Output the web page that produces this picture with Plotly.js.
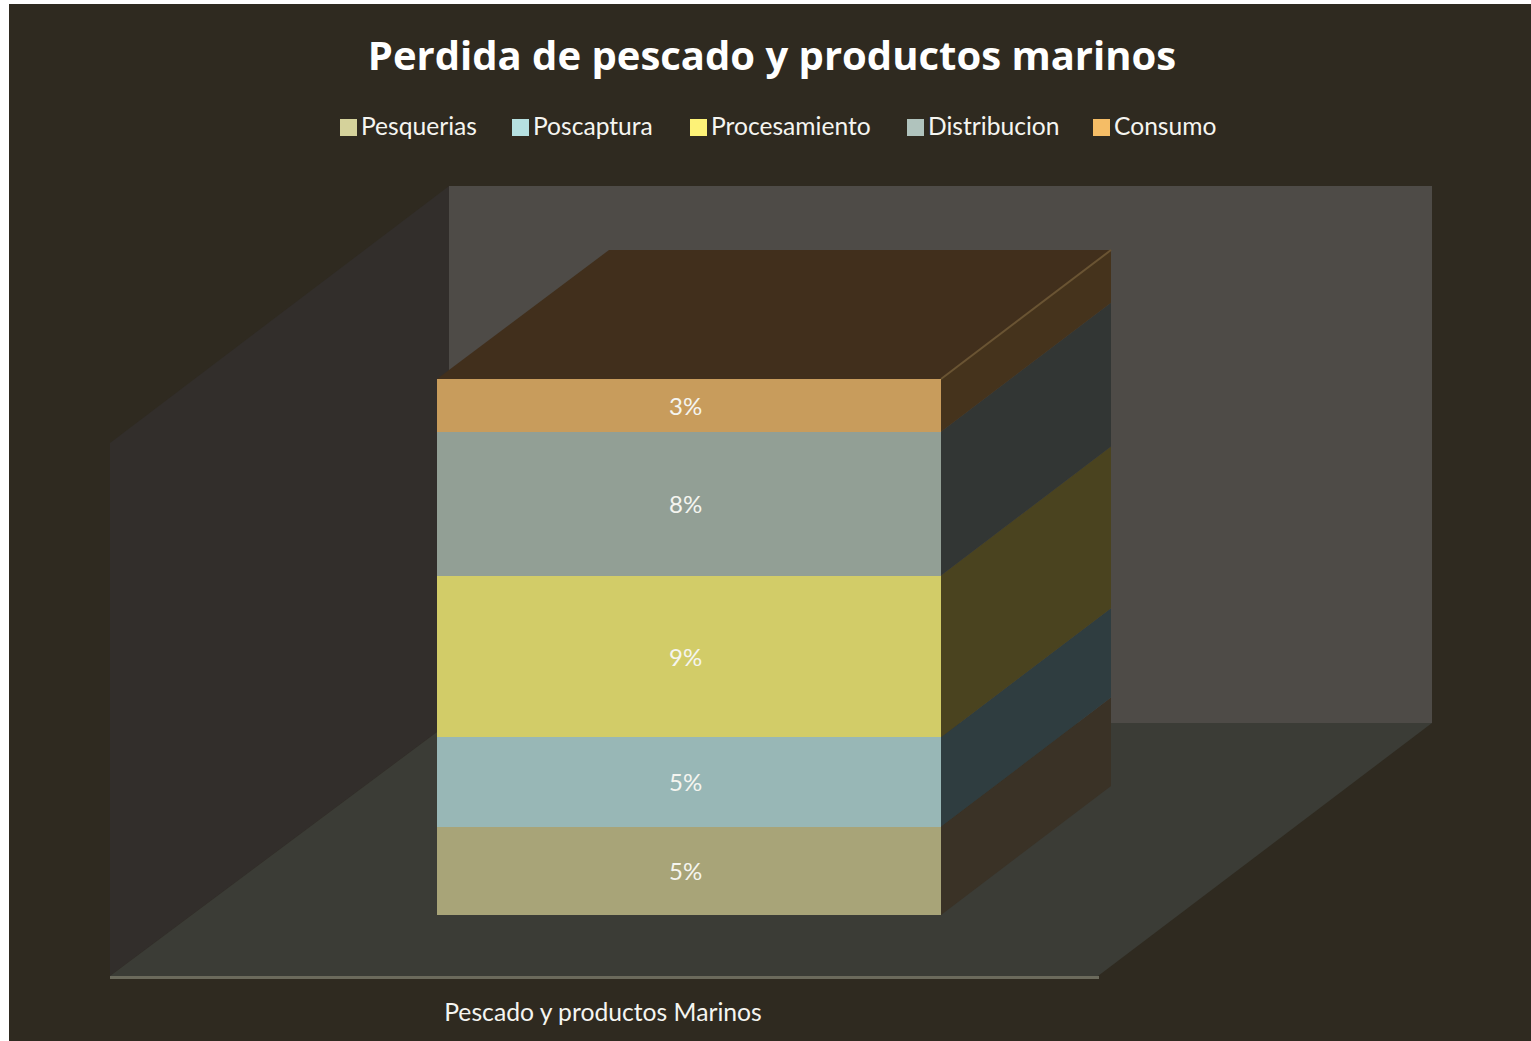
<!DOCTYPE html>
<html><head><meta charset="utf-8">
<script src="https://cdn.plot.ly/plotly-3.0.1.min.js"></script>
<style>html,body{margin:0;padding:0;background:#fff}</style>
</head><body><div id="chart" style="width:1531px;height:1041px"></div>
<script>
const categories = ["Pescado y productos Marinos"];
const seriesNames = ["Pesquerias","Poscaptura","Procesamiento","Distribucion","Consumo"];
const seriesValues = [4.95,5,9.05,8.05,2.95];
const frontColors = ["#a8a478","#98b7b6","#d2cc68","#929f95","#c89c5c"];
const sideColors = ["#3a3226","#2f3d40","#4a431f","#323634","#45331c"];
const legendColors = ["#d5d29b","#b5e0e0","#fdf277","#b0c3bd","#f5bd66"];
const legendX = [340,512,690,907,1093];
const W=1531,H=1041,L=437,R=941,T=379,B=915,MAX=30,DX=170,DY=129;
const fontName='Lato, "Open Sans", sans-serif';
const px=x=>(x-L)/(R-L), py=y=>(B-y)/(B-T), valY=v=>B-(B-T)*v/MAX;
const poly=(pts,fill,line)=>({type:'path',xref:'paper',yref:'paper',layer:'below',
  path:'M'+pts.map(p=>px(p[0])+','+py(p[1])).join('L')+'Z',fillcolor:fill,line:line||{width:0}});
const shapes=[
  poly([[9,4],[W,4],[W,H],[9,H]],'#2f2a20'),
  poly([[449,186],[1432,186],[1432,723],[449,723]],'#4e4b47'),
  poly([[110,443],[449,186],[449,723],[110,976]],'#322e2b'),
  poly([[110,976],[449,723],[1432,723],[1098,976]],'#3b3c36'),
  poly([[110,976],[1099,976],[1099,979],[110,979]],'#6b6a5c')
];
const annotations=[];
let cum=0;
seriesValues.forEach((v,i)=>{
  const y0=valY(cum),y1=valY(cum+v);
  shapes.push(poly([[R,y0],[R+DX,y0-DY],[R+DX,y1-DY],[R,y1]],sideColors[i]));
  annotations.push({text:Math.round(v)+'%',xref:'x',yref:'y',x:categories[0],y:cum+v/2,xshift:-4,xanchor:'center',yanchor:'middle',
    showarrow:false,font:{family:fontName,size:24,color:'#f5f5f0'}});
  cum+=v;
});
const topY=valY(cum);
shapes.push(poly([[L,topY],[L+DX+2,topY-DY],[R+DX,topY-DY],[R,topY]],'#412f1c'));
shapes.push({type:'line',xref:'paper',yref:'paper',layer:'below',x0:px(R),y0:py(topY),x1:px(R+DX),y1:py(topY-DY),line:{color:'#6a5433',width:2}});
seriesNames.forEach((n,i)=>{
  shapes.push(poly([[legendX[i],119],[legendX[i]+17,119],[legendX[i]+17,136],[legendX[i],136]],legendColors[i]));
  annotations.push({text:n,xref:'paper',yref:'paper',x:px(legendX[i]+19),y:py(125.5),xanchor:'left',yanchor:'middle',showarrow:false,
    font:{family:fontName,size:24.6,color:'#f5f5f0'}});
});
const traces=seriesNames.map((n,i)=>({type:'bar',name:n,x:categories,y:[seriesValues[i]],
  marker:{color:frontColors[i]},hoverinfo:'name+y'}));
Plotly.newPlot('chart',traces,{
  width:W,height:H,autosize:false,barmode:'stack',bargap:0,showlegend:false,
  margin:{l:L,r:W-R,t:T,b:H-B,pad:0},
  paper_bgcolor:'#ffffff',plot_bgcolor:'rgba(0,0,0,0)',
  title:{text:'Perdida de pescado y productos marinos',font:{family:'"Open Sans", sans-serif',size:40,weight:700,color:'#ffffff'},
    xref:'paper',yref:'container',x:px(772),xanchor:'center',y:1-56/H,yanchor:'middle'},
  xaxis:{type:'category',showgrid:false,zeroline:false,showline:false,ticks:'',ticklabelshift:-86,ticklabelstandoff:80,
    tickfont:{family:fontName,size:24.7,color:'#f5f5f0'},automargin:false},
  yaxis:{range:[0,MAX],visible:false,fixedrange:true},
  shapes,annotations
},{displayModeBar:false,staticPlot:true});
</script></body></html>
